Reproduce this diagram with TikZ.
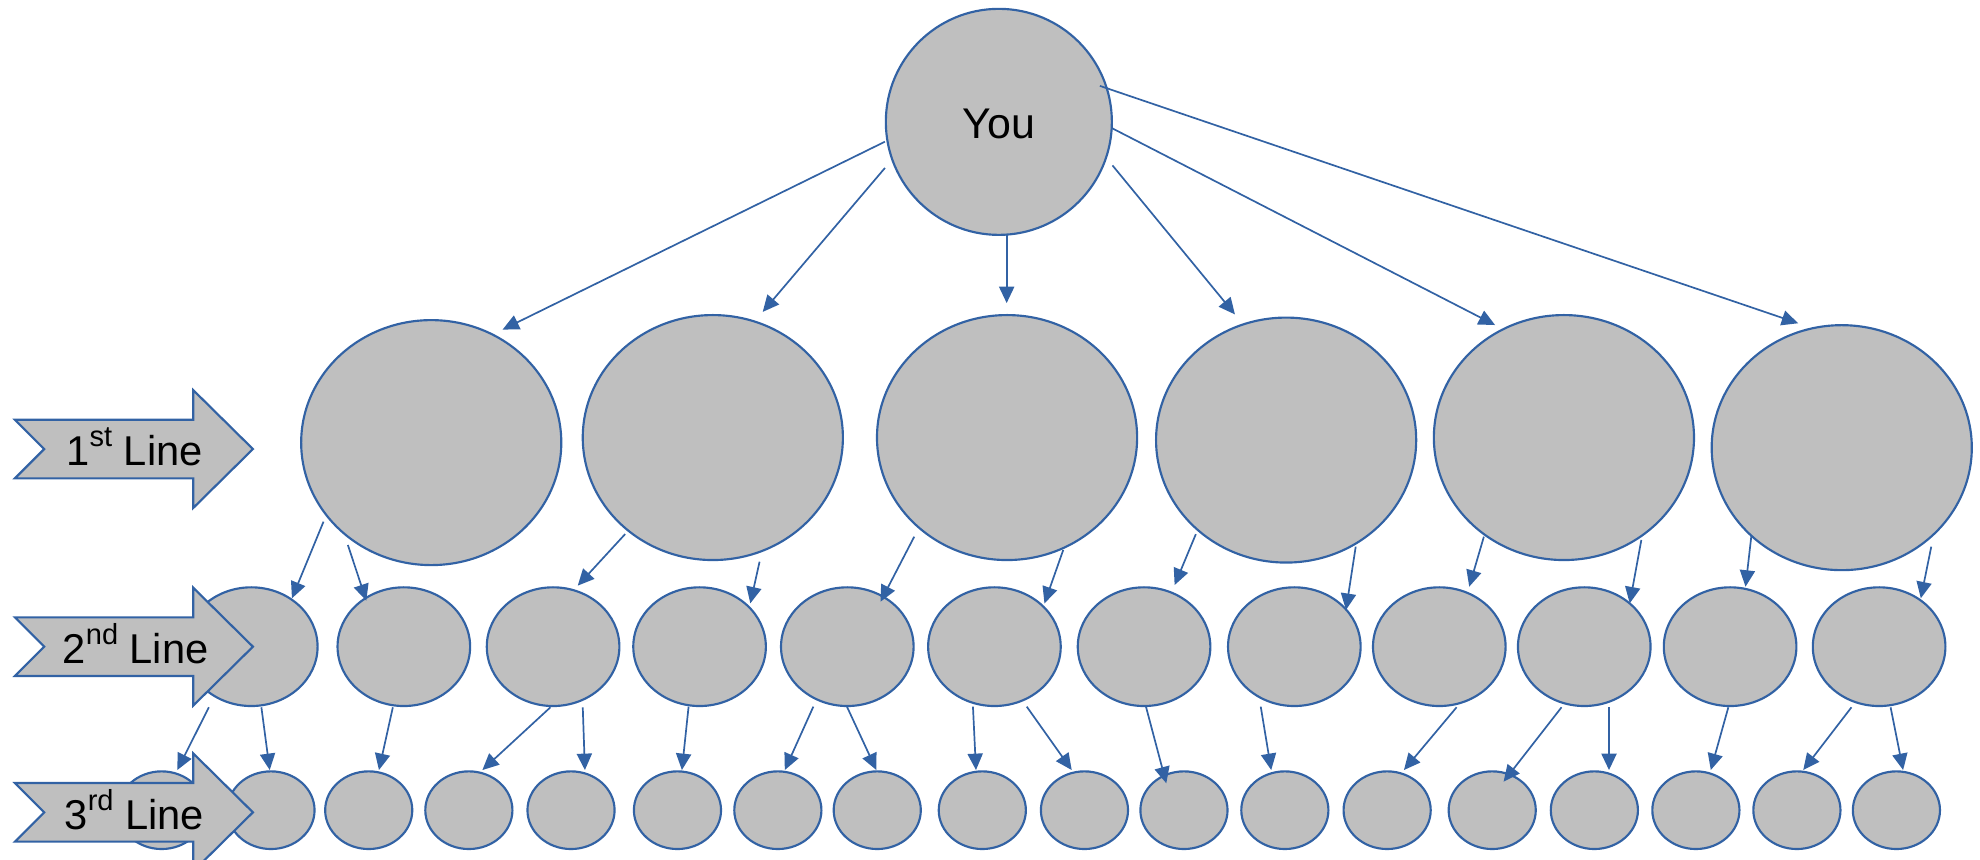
\documentclass[tikz,border=0pt]{standalone}
\usepackage{fontspec}
\setmainfont{Liberation Sans}
\usetikzlibrary{shapes.geometric,arrows.meta,calc}
\definecolor{edgeblue}{RGB}{50,98,164}
\definecolor{ballgray}{RGB}{191,191,191}
\tikzset{
  ball/.style={ellipse, draw=edgeblue, fill=ballgray, line width=1.7pt, inner sep=0pt},
  topball/.style={ball, minimum width=179pt, minimum height=179pt},
  bigball/.style={ball, minimum width=206pt, minimum height=194pt},
  midball/.style={ball, minimum width=105pt, minimum height=94pt},
  smallball/.style={ball, minimum width=69pt, minimum height=61.5pt},
  conn/.style={draw=edgeblue, line width=1.35pt, -{Triangle[length=13pt,width=12pt]}, edgeblue},
  levelshape/.style={draw=edgeblue, fill=ballgray, line width=1.7pt, line join=miter},
  leveltext/.style={anchor=base west, inner sep=0pt, font=\fontsize{33}{33}\selectfont},
}
\newcommand{\supr}[1]{\raisebox{15pt}{\fontsize{23}{23}\selectfont #1}}
\begin{document}
\begin{tikzpicture}[x=1pt,y=-1pt]
\useasboundingbox (0,0) rectangle (1568,681);
\clip (0,0) rectangle (1568,681);
% top
\node[topball] (you) at (791,96.5) {};
\node[anchor=base, inner sep=0pt, font=\fontsize{34}{34}\selectfont] (youtxt) at (791,110) {You};
% first line
\node[bigball] (a1) at (341.5,350.5) {};
\node[bigball] (a2) at (564.5,346.5) {};
\node[bigball] (a3) at (797.5,346.5) {};
\node[bigball] (a4) at (1018.5,348.5) {};
\node[bigball] (a5) at (1238.5,346.5) {};
\node[bigball] (a6) at (1458.5,354.5) {};
% second line
\foreach \i/\x in {1/199,2/319.8,3/438,4/554,5/671,6/787.5,7/906,8/1025,9/1139.8,10/1254.6,11/1370.1,12/1488.1}
  \node[midball] (b\i) at (\x,512.1) {};
% third line
\foreach \i/\x in {1/128,2/214.6,3/292,4/371.3,5/452.2,6/536.5,7/616,8/694.7,9/777.9,10/858.8,11/937.6,12/1017.5,13/1098.5,14/1181.7,15/1262.6,16/1343,17/1423,18/1501.8}
  \node[smallball] (c\i) at (\x,641.6) {};
% connectors from You
\draw[conn] ($(you)+(-90.2,15.7)$) -- ($(a1)+(56.5,-89.5)$);
\draw[conn] ($(you)+(-90.2,36.5)$) -- ($(a2)+(39.5,-99.5)$);
\draw[conn] ($(you)+(6.2,89.5)$) -- ($(a3)+(-0.3,-106.5)$);
\draw[conn] ($(you)+(90,34.5)$) -- ($(a4)+(-40.5,-99.5)$);
\draw[conn] ($(you)+(89.6,5)$) -- ($(a5)+(-54.5,-89.1)$);
\draw[conn] ($(you)+(80,-28.5)$) -- ($(a6)+(-34.5,-98.5)$);
% first to second
\draw[conn] ($(a1)+(-85.3,62.6)$) -- ($(b1)+(32.2,-38.3)$);
\draw[conn] ($(a1)+(-66,81.1)$) -- ($(b2)+(-29.7,-36.4)$);
\draw[conn] ($(a2)+(-69.4,76.4)$) -- ($(b3)+(19.5,-48.3)$);
\draw[conn] ($(a2)+(37,98.3)$) -- ($(b4)+(40.2,-34.3)$);
\draw[conn] ($(a3)+(-73.5,78.5)$) -- ($(b5)+(26.3,-35.6)$);
\draw[conn] ($(a3)+(44.5,89)$) -- ($(b6)+(39.6,-34.3)$);
\draw[conn] ($(a4)+(-71.5,74.5)$) -- ($(b7)+(24.2,-48.8)$);
\draw[conn] ($(a4)+(55.1,84.4)$) -- ($(b8)+(40.9,-29.1)$);
\draw[conn] ($(a5)+(-63.4,78.5)$) -- ($(b9)+(23.7,-47.5)$);
\draw[conn] ($(a5)+(61.3,81.1)$) -- ($(b10)+(36,-34.3)$);
\draw[conn] ($(a6)+(-71.5,69.2)$) -- ($(b11)+(12.2,-47.5)$);
\draw[conn] ($(a6)+(70.9,78.4)$) -- ($(b12)+(33,-38.3)$);
% second to third
\draw[conn] ($(b1)+(-33.6,48)$) -- ($(c1)+(12.4,-31.8)$);
\draw[conn] ($(b1)+(8,48)$) -- ($(c2)+(-1,-31.8)$);
\draw[conn] ($(b2)+(-8.7,48)$) -- ($(c3)+(8.1,-31.8)$);
\draw[conn] ($(b3)+(-2.1,48)$) -- ($(c4)+(10.7,-31.8)$);
\draw[conn] ($(b3)+(23.5,48)$) -- ($(c5)+(11,-31.8)$);
\draw[conn] ($(b4)+(-8.7,47.5)$) -- ($(c6)+(3.5,-31.8)$);
\draw[conn] ($(b5)+(-26.9,47.5)$) -- ($(c7)+(5.5,-31.8)$);
\draw[conn] ($(b5)+(-0.3,47.5)$) -- ($(c8)+(-0.7,-31.8)$);
\draw[conn] ($(b6)+(-17,47.5)$) -- ($(c9)+(-5,-31.8)$);
\draw[conn] ($(b6)+(25.6,47.5)$) -- ($(c10)+(-10.1,-31.8)$);
\draw[conn] ($(b7)+(1.5,47.5)$) -- ($(c11)+(-14,-21.3)$);
\draw[conn] ($(b8)+(-26.6,47.5)$) -- ($(c12)+(-10.8,-31.8)$);
\draw[conn] ($(b9)+(13.7,48)$) -- ($(c13)+(13.3,-31.8)$);
\draw[conn] ($(b10)+(-18,48)$) -- ($(c14)+(9,-22.6)$);
\draw[conn] ($(b10)+(19.6,48)$) -- ($(c15)+(11.6,-31.8)$);
\draw[conn] ($(b11)+(-1.4,48)$) -- ($(c16)+(11.8,-31.8)$);
\draw[conn] ($(b12)+(-21.9,48)$) -- ($(c17)+(5,-31.8)$);
\draw[conn] ($(b12)+(9.1,48)$) -- ($(c18)+(5.3,-31.8)$);
% level arrows
\foreach \yc in {355.6,512.1,643.3}
  \draw[levelshape] (11.8,\yc-23.2) -- (153,\yc-23.2) -- (153,\yc-46.7) -- (200.3,\yc)
    -- (153,\yc+46.7) -- (153,\yc+23.2) -- (11.8,\yc+23.2) -- (35,\yc) -- cycle;
\node[leveltext] (l1) at (52.5,368.5) {1\supr{st} Line};
\node[leveltext] (l2) at (49.5,525.5) {2\supr{nd} Line};
\node[leveltext] (l3) at (51,656.5) {3\supr{rd} Line};
\end{tikzpicture}
\end{document}
